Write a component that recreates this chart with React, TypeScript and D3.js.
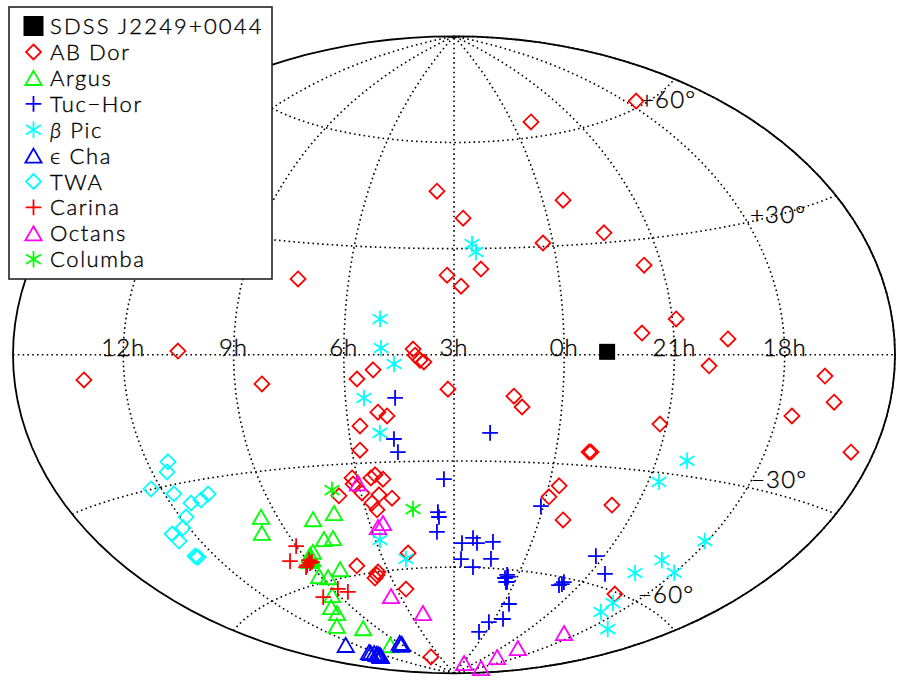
import React, { useMemo } from 'react'
import * as d3 from 'd3'

// [RA deg, Dec deg]
const sdss = [[-17.5, 0.8]]
const abDor = [[-96.1,61.2],[-13.9,64.1],[54.0,46.2],[-10.2,42.3],[40.6,38.6],[-24.2,32.6],[4.6,31.0],[-37.5,23.3],[48.0,22.5],[33.3,24.2],[42.0,19.4],[111.6,20.3],[-32.0,5.7],[-46.5,9.1],[-67.0,3.8],[157.7,0.9],[-59.2,-2.7],[196.6,-5.2],[123.9,-7.6],[-106.8,-4.4],[-112.1,-9.6],[-96.1,-13.3],[-125.6,-18.7],[-42.1,-17.8],[61.7,1.6],[60.9,-0.1],[58.9,-1.5],[57.3,-2.0],[47.5,-9.7],[20.2,-11.6],[16.6,-14.6],[78.1,-4.2],[84.8,-6.7],[76.9,-16.0],[73.2,-17.1],[85.0,-19.7],[86.4,-26.4],[92.4,-33.9],[92.6,-35.6],[83.7,-34.2],[81.5,-33.4],[78.2,-34.7],[89.5,-38.2],[100.9,-38.5],[81.5,-39.0],[75.5,-40.1],[85.8,-41.1],[84.2,-43.1],[108.2,-57.6],[73.3,-55.6],[97.0,-60.0],[98.7,-60.8],[101.2,-61.5],[82.9,-65.5],[115.1,-84.5],[-4.8,-36.0],[-1.4,-39.2],[-33.1,-39.7],[-12.2,-45.1],[-72.5,-60.4],[-14.5,-26.3],[-15.4,-26.3]]
const argus = [[143.6,-41.8],[148.5,-45.6],[118.7,-44.5],[106.8,-43.6],[118.7,-50.0],[113.5,-50.1],[129.2,-52.7],[132.1,-53.3],[132.4,-53.9],[132.7,-54.4],[134.3,-54.5],[135.3,-54.7],[137.1,-58.8],[132.2,-59.6],[120.8,-58.3],[141.1,-64.0],[151.6,-66.5],[153.2,-68.2],[168.1,-70.6],[150.9,-73.4],[154.5,-79.1]]
const tucHor = [[69.4,-12.1],[71.0,-23.6],[69.8,-27.3],[29.5,-22.0],[49.7,-35.1],[53.3,-44.4],[52.9,-45.8],[54.5,-50.0],[40.3,-53.2],[34.1,-51.7],[31.5,-53.1],[22.3,-52.6],[40.5,-57.7],[32.2,-59.9],[21.4,-57.4],[7.6,-61.5],[8.2,-62.4],[6.4,-62.0],[6.3,-63.5],[5.6,-63.4],[-31.9,-62.1],[-33.5,-61.1],[-33.3,-61.7],[1.3,-41.9],[-40.4,-53.1],[-54.0,-56.8],[-4.9,-69.3],[-8.8,-73.5],[4.1,-74.9],[9.6,-77.9]]
const betaPic = [[75.5,10.0],[74.8,1.9],[69.5,-2.6],[82.3,-12.0],[76.8,-21.8],[36.8,31.3],[35.2,29.0],[87.4,-51.4],[75.6,-57.2],[-58.3,-26.3],[-49.9,-32.3],[-88.8,-43.4],[-77.0,-50.1],[-70.0,-54.6],[-89.9,-51.7],[-78.5,-62.3],[-79.4,-65.0],[-101.8,-67.1]]
const epsCha = [[191.5,-74.4],[138.4,-79.5],[137.9,-79.9],[141.4,-80.0],[190.4,-77.9],[191.3,-78.2],[189.1,-78.6],[188.5,-79.2],[189.7,-79.5],[189.3,-79.0],[191.7,-79.7]]
const twa = [[171.2,-24.8],[173.6,-27.0],[184.5,-29.9],[175.9,-32.0],[170.9,-34.8],[165.6,-34.6],[160.9,-33.6],[177.5,-37.5],[182.7,-39.5],[189.9,-40.0],[189.7,-41.8],[189.3,-45.7],[188.9,-46.0],[188.4,-46.1]]
const carina = [[135.1,-49.9],[144.7,-53.1],[133.8,-53.9],[137.2,-55.0],[134.6,-54.7],[138.7,-55.4],[133.0,-54.5],[131.5,-62.4],[126.7,-63.7],[146.6,-63.3]]
const octans = [[90.5,-36.1],[83.3,-47.5],[86.6,-48.5],[98.6,-67.5],[78.1,-73.2],[-17.2,-87.4],[-114.2,-86.4],[-73.1,-83.2],[-71.5,-79.6],[-82.9,-72.5]]
const columba = [[103.3,-36.8],[65.9,-43.4]]

const raLabels = ['12h', '9h', '6h', '3h', '0h', '21h', '18h']
const raLabelValues = [180, 135, 90, 45, 0, -45, -90]
const decLabels = ['+60°', '+30°', '−30°', '−60°']

// IDL style asterisk: upright stroke plus two wide diagonals
const asterisk = {
    draw(ctx: any, size: number) {
        const r = Math.sqrt(size)
        const dx = r * 0.9
        const dy = r * 0.58
        ctx.moveTo(0, -r)
        ctx.lineTo(0, r)
        ctx.moveTo(-dx, -dy)
        ctx.lineTo(dx, dy)
        ctx.moveTo(-dx, dy)
        ctx.lineTo(dx, -dy)
    },
}

const groups = [
    { name: 'AB Dor', data: abDor, symbol: d3.symbolDiamond2, size: 143, color: '#ff0000' },
    { name: 'Argus', data: argus, symbol: d3.symbolTriangle2, size: 190, color: '#00ff00' },
    { name: 'Tuc−Hor', data: tucHor, symbol: d3.symbolPlus, size: 82, color: '#0000ff' },
    { name: 'β Pic', data: betaPic, symbol: asterisk, size: 68, color: '#00ffff' },
    { name: 'ϵ Cha', data: epsCha, symbol: d3.symbolTriangle2, size: 190, color: '#0000ff' },
    { name: 'TWA', data: twa, symbol: d3.symbolDiamond2, size: 143, color: '#00ffff' },
    { name: 'Carina', data: carina, symbol: d3.symbolPlus, size: 82, color: '#ff0000' },
    { name: 'Octans', data: octans, symbol: d3.symbolTriangle2, size: 190, color: '#ff00ff' },
    { name: 'Columba', data: columba, symbol: asterisk, size: 68, color: '#00ff00' },
]

const width = 908
const height = 692
const cx = 454
const cy = 354.8
const rx = 441
const ry = 318.5
const stretch = (2 * ry) / rx

// Aitoff, squashed to the plot's aspect ratio
function aitoffRaw(lambda: number, phi: number) {
    const alpha = Math.acos(Math.cos(phi) * Math.cos(lambda / 2))
    const sinc = alpha < 1e-9 ? 1 : Math.sin(alpha) / alpha
    return [
        (2 * Math.cos(phi) * Math.sin(lambda / 2)) / sinc,
        (stretch * Math.sin(phi)) / sinc,
    ]
}

const font = { fontFamily: 'Lato, sans-serif', fontWeight: 300, fill: '#000', stroke: '#000', strokeWidth: 0.35 }
const labelSize = 24

function LegendLabel({ name, x, y, spacing = 1.6 }: { name: string; x: number; y: number; spacing?: number }) {
    const greek = name[0] === 'β'
    return (
        <text x={x} y={y} fontSize={22} letterSpacing={spacing} {...font}>
            {greek ? (
                <>
                    <tspan fontStyle='italic'>β</tspan>
                    {name.slice(1)}
                </>
            ) : (
                name
            )}
        </text>
    )
}

export default function App() {
    const projection = useMemo(
        () =>
            d3
                .geoProjection(aitoffRaw as any)
                .rotate([45, 0])
                .scale(rx / Math.PI)
                .translate([cx, cy])
                .precision(0.2),
        []
    )
    const path = d3.geoPath(projection)
    const graticule = d3
        .geoGraticule()
        .extent([
            [-180, -90],
            [180, 90],
        ])
        .stepMinor([45, 30])()
    const place = ([ra, dec]: number[]) => projection([-ra, dec]) as [number, number]
    const decAnchors = [
        [640, 108],
        [750, 223],
        [751, 488],
        [638, 603],
    ]

    return (
        <svg
            width={width}
            height={height}
            style={{ position: 'absolute', left: 0, top: 0, background: '#fff' }}
        >
            <path d={path(graticule) as string} fill='none' stroke='#000' strokeWidth={1.6} strokeDasharray='1.6 3.2' />
            <path d={path({ type: 'Sphere' } as any) as string} fill='none' stroke='#000' strokeWidth={1.8} />
            {raLabels.map((l, i) => (
                <text key={l} x={place([raLabelValues[i], 0])[0]} y={356} textAnchor='middle' fontSize={labelSize} letterSpacing={1} {...font}>
                    {l}
                </text>
            ))}
            {decLabels.map((l, i) => (
                <text key={l} x={decAnchors[i][0]} y={decAnchors[i][1]} fontSize={labelSize} letterSpacing={1.2} {...font}>
                    {l}
                </text>
            ))}
            {sdss.map((d, i) => {
                const [x, y] = place(d)
                return <path key={i} transform={`translate(${x},${y})`} d={d3.symbol(d3.symbolSquare, 256)() as string} fill='#000' />
            })}
            {groups.map(g => {
                const d = d3.symbol(g.symbol as any, g.size)() as string
                return (
                    <g key={g.name} fill='none' stroke={g.color} strokeWidth={1.8}>
                        {g.data.map((p, i) => {
                            const [x, y] = place(p)
                            return <path key={i} transform={`translate(${x},${y})`} d={d} />
                        })}
                    </g>
                )
            })}
            <g>
                <rect x={9} y={7} width={263} height={272} fill='#fff' stroke='#222' strokeWidth={1.6} />
                <path transform='translate(33.5,26)' d={d3.symbol(d3.symbolSquare, 400)() as string} fill='#000' />
                <LegendLabel name='SDSS J2249+0044' x={50} y={34} spacing={2.15} />
                {groups.map((g, i) => {
                    const y = 52 + i * 25.9
                    const dy = g.symbol === d3.symbolTriangle2 ? 2.4 : 0
                    return (
                        <g key={g.name}>
                            <path
                                transform={`translate(33.5,${y + dy})`}
                                d={d3.symbol(g.symbol as any, g.size)() as string}
                                fill='none'
                                stroke={g.color}
                                strokeWidth={1.8}
                            />
                            <LegendLabel name={g.name} x={50} y={y + 8} />
                        </g>
                    )
                })}
            </g>
        </svg>
    )
}
